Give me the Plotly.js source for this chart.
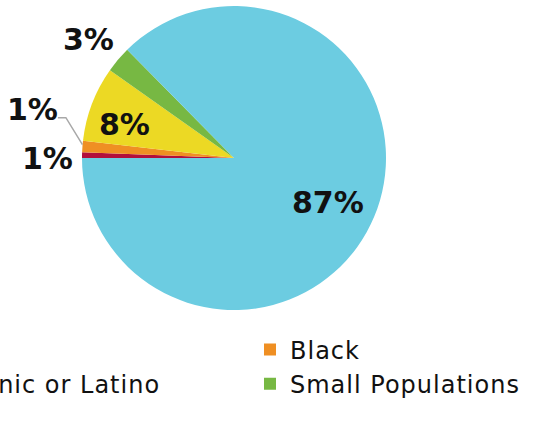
<!DOCTYPE html>
<html><head><meta charset="utf-8">
<script src="https://cdn.plot.ly/plotly-3.0.1.min.js"></script>
<style>
html,body{margin:0;padding:0;overflow:hidden;width:534px;height:432px;background:#fff}
#chart{position:absolute;left:-300px;top:0;width:834px;height:432px}
.legendtext{letter-spacing:1px}
</style>
</head><body><div id="chart"></div>
<script>
const groups = ['Asian', 'Black', 'Hispanic or Latino', 'Small Populations', 'White'];
const shares = [0.6, 1.2, 8.0, 2.8, 87.4];
const shareLabels = ['1%', '1%', '8%', '3%', '87%'];

// layout geometry (visible frame is offset D px into a wider figure)
const W = 834, H = 432, D = 300;
const cx = 234, cy = 158, R = 152;
const toPX = x => (x + D) / W;
const toPY = y => (H - y) / H;

// label placement: radius factor along slice mid-angle plus pixel nudges
const labelPlace = [
  { r: 1.23, dx: 0, dy: 4 },
  { r: 1.34, dx: 2, dy: -33, leader: true },
  { r: 0.77, dx: 0, dy: 8 },
  { r: 1.20, dx: -6, dy: 0 },
  { r: 0.685, dx: -2, dy: 4 }
];

const total = shares.reduce((a, b) => a + b, 0);
let cum = 0;
const midAngles = shares.map(v => {
  const mid = cum + v / 2; cum += v;
  return (180 - mid / total * 360) * Math.PI / 180; // clockwise from 9 o'clock
});
const polar = (i, rf) => [cx + rf * R * Math.cos(midAngles[i]), cy - rf * R * Math.sin(midAngles[i])];

const labelFont = { family: 'DejaVu Sans', size: 30, color: '#111', weight: 'bold' };
const annotations = [];
const shapes = [];
shareLabels.forEach((t, i) => {
  const p = labelPlace[i];
  const [lx0, ly0] = polar(i, p.r);
  const lx = lx0 + p.dx, ly = ly0 + p.dy;
  annotations.push({
    text: t, x: toPX(lx), y: toPY(ly), xref: 'paper', yref: 'paper',
    xanchor: 'center', yanchor: 'middle', showarrow: false, font: labelFont
  });
  if (p.leader) {
    const [ex, ey] = polar(i, 1.0);
    const sx = lx + 25, sy = ly + 8;
    const kx = sx + 8;
    shapes.push({
      type: 'path', xref: 'paper', yref: 'paper',
      path: `M ${toPX(sx)} ${toPY(sy)} L ${toPX(kx)} ${toPY(sy)} L ${toPX(ex)} ${toPY(ey - 2)}`,
      line: { color: '#A8A8A8', width: 1.5 }
    });
  }
});

const trace = {
  type: 'pie',
  labels: groups,
  values: shares,
  textinfo: 'none',
  sort: false,
  direction: 'clockwise',
  rotation: -90,
  hoverinfo: 'none',
  marker: { colors: ['#B20F3C', '#EF8F23', '#ECD924', '#77B843', '#6CCCE1'], line: { width: 0 } },
  domain: { x: [toPX(cx - R), toPX(cx + R)], y: [toPY(cy + R), toPY(cy - R)] }
};

const layout = {
  width: W, height: H,
  margin: { l: 0, r: 0, t: 0, b: 0, autoexpand: false },
  paper_bgcolor: '#fff',
  showlegend: true,
  annotations: annotations,
  shapes: shapes,
  legend: {
    orientation: 'h', x: (D - 85 - 29) / W, xanchor: 'left', y: 0.242, yanchor: 'top',
    font: { family: 'DejaVu Sans', size: 24, color: '#111' },
    entrywidth: 319, entrywidthmode: 'pixels', traceorder: 'normal'
  }
};

Plotly.newPlot('chart', [trace], layout, { displayModeBar: false, staticPlot: true });
</script>
</body></html>
